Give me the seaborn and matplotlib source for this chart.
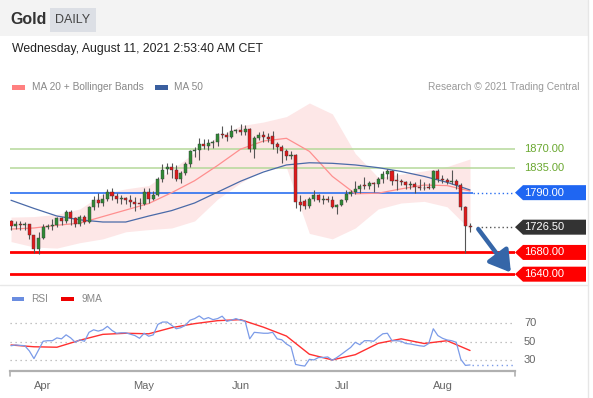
import numpy as np
import pandas as pd
import matplotlib
matplotlib.use("Agg")
import matplotlib.pyplot as plt
import matplotlib.patches as mpatches
import matplotlib.transforms as mtransforms
import seaborn as sns

# ---------------- data ----------------
dates = pd.bdate_range("2021-03-23", "2021-08-10")  # 101 daily candles

opens = [1737, 1728, 1733, 1730, 1732, 1712, 1686, 1707, 1727, 1729,
         1730, 1743, 1738, 1755, 1744, 1733, 1745, 1736, 1764, 1777,
         1771, 1779, 1792, 1783, 1778, 1780, 1777, 1773, 1770, 1769,
         1791, 1778, 1786, 1815, 1834, 1838, 1832, 1816, 1826, 1843,
         1866, 1869, 1880, 1876, 1881, 1884, 1898, 1896, 1893, 1903,
         1905, 1901, 1907, 1871, 1891, 1897, 1893, 1894, 1880, 1874,
         1866, 1857, 1859, 1772, 1774, 1766, 1779, 1785, 1776, 1779,
         1776, 1763, 1768, 1776, 1787, 1792, 1796, 1803, 1802, 1808,
         1806, 1815, 1825, 1829, 1812, 1812, 1810, 1804, 1806, 1801,
         1798, 1799, 1799, 1829, 1816, 1813, 1810, 1812, 1805, 1763, 1729]
highs = [1740, 1737, 1737, 1736, 1733, 1713, 1717, 1733, 1732, 1741,
         1746, 1745, 1759, 1758, 1746, 1748, 1749, 1766, 1784, 1790,
         1787, 1797, 1798, 1790, 1785, 1782, 1786, 1782, 1780, 1799,
         1798, 1793, 1818, 1843, 1845, 1845, 1840, 1829, 1846, 1868,
         1874, 1890, 1888, 1889, 1886, 1900, 1913, 1902, 1915, 1908,
         1917, 1914, 1909, 1894, 1902, 1903, 1900, 1904, 1884, 1878,
         1870, 1866, 1861, 1786, 1778, 1782, 1795, 1788, 1785, 1784,
         1784, 1770, 1779, 1795, 1795, 1812, 1806, 1818, 1812, 1810,
         1819, 1829, 1834, 1832, 1826, 1816, 1812, 1812, 1810, 1815,
         1810, 1808, 1832, 1833, 1822, 1817, 1832, 1816, 1807, 1765, 1735]
lows = [1722, 1723, 1721, 1722, 1705, 1679, 1677, 1704, 1724, 1722,
        1726, 1731, 1735, 1731, 1727, 1729, 1733, 1735, 1759, 1764,
        1765, 1775, 1776, 1771, 1770, 1769, 1764, 1756, 1760, 1767,
        1771, 1776, 1783, 1809, 1825, 1817, 1812, 1808, 1823, 1838,
        1856, 1850, 1870, 1869, 1872, 1876, 1891, 1885, 1890, 1899,
        1896, 1897, 1864, 1854, 1887, 1883, 1884, 1870, 1863, 1844,
        1850, 1852, 1762, 1757, 1760, 1761, 1774, 1772, 1770, 1772,
        1761, 1750, 1765, 1772, 1783, 1788, 1789, 1797, 1797, 1792,
        1800, 1807, 1816, 1805, 1794, 1804, 1796, 1797, 1790, 1794,
        1795, 1796, 1797, 1810, 1808, 1806, 1806, 1797, 1758, 1679, 1717]
closes = [1728, 1733, 1730, 1732, 1712, 1686, 1707, 1727, 1729, 1730,
          1743, 1738, 1755, 1744, 1733, 1745, 1736, 1764, 1777, 1771,
          1779, 1792, 1783, 1778, 1780, 1777, 1773, 1770, 1769, 1791,
          1778, 1786, 1815, 1832, 1838, 1832, 1816, 1826, 1843, 1866,
          1869, 1880, 1876, 1881, 1884, 1898, 1896, 1893, 1903, 1905,
          1901, 1907, 1871, 1891, 1897, 1893, 1889, 1880, 1874, 1866,
          1857, 1859, 1772, 1767, 1766, 1779, 1785, 1776, 1779, 1776,
          1763, 1768, 1776, 1787, 1792, 1796, 1803, 1802, 1808, 1806,
          1815, 1825, 1829, 1812, 1812, 1810, 1804, 1806, 1801, 1798,
          1799, 1799, 1829, 1816, 1813, 1810, 1812, 1805, 1763, 1729, 1727]

# indicator readings, every 5 trading days
ind_idx = list(range(0, 101, 5))
ma20 = [1723, 1725, 1730, 1734, 1746, 1758, 1770, 1790, 1812, 1840, 1870,
        1885, 1890, 1866, 1820, 1788, 1789, 1797, 1804, 1803, 1793]
ma50 = [1776, 1761, 1747, 1740, 1736, 1736, 1747, 1757, 1771, 1791, 1811,
        1828, 1841, 1845, 1844, 1841, 1836, 1829, 1820, 1809, 1795]
bb_upper = [1745, 1746, 1750, 1760, 1788, 1797, 1803, 1832, 1864, 1893, 1913,
            1920, 1930, 1955, 1935, 1862, 1818, 1824, 1830, 1838, 1852]
bb_lower = [1700, 1690, 1688, 1698, 1705, 1718, 1722, 1725, 1738, 1778, 1808,
            1832, 1836, 1715, 1705, 1725, 1760, 1771, 1774, 1764, 1722]
rsi_ma9 = [46.4, 44.5, 44.0, 51.5, 57.8, 59.0, 58.4, 65.0, 69.3, 72.5, 73.6,
           65.5, 56.0, 36.5, 30.4, 36.0, 48.2, 53.0, 48.0, 51.0, 40.5]

rsi = [45.6, 46.4, 46.0, 45.6, 40.0, 31.8, 41.0, 50.4, 51.0, 51.0,
       54.0, 53.0, 57.3, 54.0, 49.3, 52.0, 50.4, 60.0, 62.7, 61.3,
       62.7, 66.4, 62.0, 59.0, 59.5, 59.5, 58.0, 56.5, 53.6, 59.0,
       55.8, 57.3, 68.5, 71.0, 71.0, 67.5, 63.8, 65.0, 67.5, 73.0,
       74.7, 77.6, 74.0, 75.8, 73.6, 74.7, 77.3, 71.8, 73.0, 74.7,
       73.0, 72.0, 53.0, 60.0, 59.5, 59.0, 59.0, 60.0, 53.0, 52.0,
       47.5, 44.5, 25.6, 24.5, 23.8, 31.0, 30.4, 33.0, 33.0, 33.6,
       30.0, 33.0, 36.5, 40.2, 43.8, 49.3, 46.7, 51.0, 51.0, 50.4,
       54.7, 58.4, 59.0, 51.0, 51.0, 50.4, 48.0, 47.5, 46.5, 45.6,
       45.0, 48.0, 63.8, 56.5, 53.6, 51.8, 51.0, 49.3, 31.0, 24.5, 25.0]

resistances = [1870.00, 1835.00]
pivot = 1790.00
last_price = 1726.50
supports = [1680.00, 1640.00]
rsi_levels = [70, 50, 30]
month_labels = ["Apr", "May", "Jun", "Jul", "Aug"]

# ---------------- style ----------------
sns.set_theme(style="white")
plt.rcParams["font.family"] = ["Liberation Sans", "DejaVu Sans"]

W, H = 593, 398
fig = plt.figure(figsize=(W / 100, H / 100), dpi=100)
fig.patch.set_facecolor("white")


def fx(px):
    return px / W


def fy(py):
    return 1 - py / H


GREEN_C = "#2f8a35"
RED_C = "#e0191b"
XL = (-0.22, 109.8)

# header
fig.add_artist(mpatches.Rectangle((0, fy(36)), fx(588), 36 / H, transform=fig.transFigure,
                                  facecolor="#f3f3f3", edgecolor="none"))
fig.add_artist(mpatches.Rectangle((fx(50), fy(32)), fx(46), 24 / H, transform=fig.transFigure,
                                  facecolor="#dcdfe5", edgecolor="none"))
fig.text(fx(10), fy(20), "Gold", fontsize=11.5, fontweight="bold", color="#333333", va="center")
fig.text(fx(73), fy(20), "DAILY", fontsize=9, color="#444444", va="center", ha="center")
fig.text(fx(12), fy(49), "Wednesday, August 11, 2021 2:53:40 AM CET", fontsize=8.8,
         color="#222222", va="center")
fig.add_artist(plt.Line2D([fx(588), fx(588)], [0, 1], transform=fig.transFigure,
                          color="#e6e6e6", lw=1))
fig.add_artist(plt.Line2D([0, fx(588)], [fy(285), fy(285)], transform=fig.transFigure,
                          color="#e8e8e8", lw=1))

# legends
fig.add_artist(mpatches.Rectangle((fx(12), fy(89.5)), fx(13), 4 / H, transform=fig.transFigure,
                                  facecolor="#ff8080", edgecolor="none"))
fig.text(fx(32), fy(87.5), "MA 20 + Bollinger Bands", fontsize=7.3, color="#888888", va="center")
fig.add_artist(mpatches.Rectangle((fx(155), fy(89.5)), fx(13), 4 / H, transform=fig.transFigure,
                                  facecolor="#3a5f9f", edgecolor="none"))
fig.text(fx(174), fy(87.5), "MA 50", fontsize=7.3, color="#888888", va="center")
fig.text(fx(580), fy(87.5), "Research \u00a9 2021 Trading Central", fontsize=7.3,
         color="#999999", va="center", ha="right")

fig.add_artist(mpatches.Rectangle((fx(12), fy(301)), fx(12), 4 / H, transform=fig.transFigure,
                                  facecolor="#6a8de0", edgecolor="none"))
fig.text(fx(31), fy(299), "RSI", fontsize=7.3, color="#888888", va="center")
fig.add_artist(mpatches.Rectangle((fx(61), fy(301)), fx(13), 4 / H, transform=fig.transFigure,
                                  facecolor="#ee0000", edgecolor="none"))
fig.text(fx(81), fy(299), "9MA", fontsize=7.3, color="#888888", va="center")

# ---------------- price panel ----------------
ax = fig.add_axes([fx(10), fy(282), fx(505), (282 - 100) / H])
ax.set_xlim(*XL)
ax.set_ylim(1625.6, 1960.5)
ax.axis("off")

ax.fill_between(ind_idx, bb_lower, bb_upper, color="#fde3e3", alpha=0.85, lw=0, zorder=1)
sns.lineplot(x=ind_idx, y=ma20, ax=ax, color="#ff8f8f", linewidth=0.9, legend=False, zorder=3)
sns.lineplot(x=ind_idx, y=ma50, ax=ax, color="#4a6aa8", linewidth=0.9, legend=False, zorder=3)

for r in resistances:
    ax.axhline(r, color="#b5d89a", lw=1.1, zorder=2)
ax.hlines(pivot, XL[0], 100.6, color="#2a6ff0", lw=1.2, zorder=2)
ax.hlines(pivot, 100.6, XL[1], color="#2a6ff0", lw=1.0, linestyles=(0, (1, 2)), zorder=2)
ax.hlines(last_price, 101.5, XL[1], color="#555555", lw=1.0, linestyles=(0, (1, 2)), zorder=2)
for s in supports:
    ax.axhline(s, color="#ff0000", lw=2, zorder=2)

x = np.arange(len(closes))
o = np.array(opens, float)
c = np.array(closes, float)
colors = [GREEN_C if cc > oo else RED_C for oo, cc in zip(o, c)]
ax.vlines(x, lows, highs, color="#555555", lw=0.8, zorder=4)
body = np.maximum(np.abs(c - o), 1.2)
ax.bar(x, body, bottom=np.minimum(o, c), width=0.66, color=colors,
       edgecolor="#3a3a3a", linewidth=0.3, zorder=5)

ax.annotate("", xy=(108.9, 1643), xytext=(101.8, 1723),
            arrowprops=dict(arrowstyle="-|>,head_length=0.9,head_width=0.55",
                            color="#3566a8", lw=3.2, mutation_scale=14,
                            shrinkA=0, shrinkB=0),
            annotation_clip=False, zorder=6)

# ---------------- rsi panel ----------------
ax2 = fig.add_axes([fx(10), fy(371), fx(505), (371 - 305) / H])
ax2.set_xlim(*XL)
ax2.set_ylim(18.5, 89.3)
for lv in rsi_levels:
    ax2.axhline(lv, color="#b0b0b0", lw=0.9, linestyle=(0, (1, 3)))
sns.lineplot(x=ind_idx, y=rsi_ma9, ax=ax2, color="#ff3030", linewidth=1.0, legend=False, zorder=3)
sns.lineplot(x=x, y=rsi, ax=ax2, color="#7b9be8", linewidth=0.9, legend=False, zorder=4)
ax2.hlines(rsi[-1], 100.5, XL[1], color="#7b9be8", lw=1.0, linestyles=(0, (1, 2.5)))
for sp in ["top", "left", "right"]:
    ax2.spines[sp].set_visible(False)
ax2.spines["bottom"].set_color("#b0b0b0")
ax2.spines["bottom"].set_linewidth(1.6)
ax2.set_yticks([])
month_pos = [list(dates.month).index(m) for m in [4, 5, 6, 7, 8]]
ax2.set_xticks(month_pos)
ax2.set_xticklabels(month_labels, fontsize=8, color="#666666")
ax2.tick_params(axis="x", length=0, pad=7)
ax2.set_xlabel("")
ax2.set_ylabel("")
for xe in XL:
    ax2.plot([xe, xe], [18.5, 13.1], color="#b0b0b0", lw=1.2, clip_on=False)

fig.canvas.draw()

# ---------------- right-hand labels ----------------
def tag(axis, value, text, face, fg="white"):
    yc = axis.transData.transform((0, value))[1]
    verts = [(515, yc), (523, yc + 7.5), (586, yc + 7.5), (586, yc - 7.5), (523, yc - 7.5)]
    fig.add_artist(mpatches.Polygon(verts, closed=True, transform=mtransforms.IdentityTransform(),
                                    facecolor=face, edgecolor="none"))
    fig.text(fx(524), yc / H, text, fontsize=8, color=fg, va="center")


def plain(axis, value, text, col):
    yc = axis.transData.transform((0, value))[1]
    fig.text(fx(524), yc / H, text, fontsize=8, color=col, va="center")


for r in resistances:
    plain(ax, r, f"{r:.2f}", "#6aa830")
tag(ax, pivot, f"{pivot:.2f}", "#1f66f2")
tag(ax, last_price, f"{last_price:.2f}", "#333333")
for s in supports:
    tag(ax, s, f"{s:.2f}", "#ff0000")
for lv in rsi_levels:
    plain(ax2, lv, str(lv), "#666666")

fig.savefig("out.png", dpi=100)
